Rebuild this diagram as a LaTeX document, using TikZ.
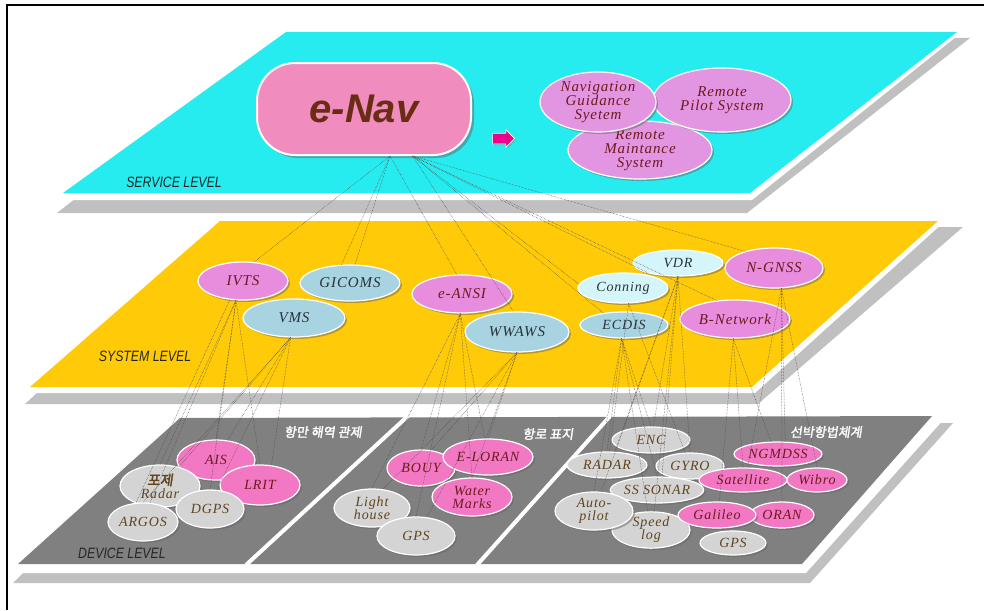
\documentclass[tikz,border=0pt]{standalone}
\usepackage{fontspec}
\setmainfont{Liberation Serif}
\newfontfamily\nodefont{Liberation Serif}[LetterSpace=6]
\newfontfamily\navfont{Liberation Sans}
\newfontfamily\levelfont{Liberation Sans}[FakeStretch=0.82]
\newfontfamily\krfont{Noto Sans CJK KR}[FakeBold=2,FakeSlant=0.15]
\usetikzlibrary{shapes.geometric,shapes.arrows,shadows}

\definecolor{cyanpanel}{RGB}{38,236,240}
\definecolor{goldpanel}{RGB}{255,202,8}
\definecolor{darkpanel}{RGB}{128,128,128}
\definecolor{slabgray}{RGB}{192,192,192}
\definecolor{navpink}{RGB}{240,140,190}
\definecolor{lilac}{RGB}{226,150,226}
\definecolor{orchidfill}{RGB}{232,140,222}
\definecolor{skyblue}{RGB}{168,212,226}
\definecolor{icecyan}{RGB}{212,246,250}
\definecolor{hotpink}{RGB}{242,120,196}
\definecolor{pebble}{RGB}{212,212,212}
\definecolor{wine}{RGB}{110,25,30}
\definecolor{umber}{RGB}{95,68,28}
\definecolor{slate}{RGB}{40,50,60}
\definecolor{cocoa}{RGB}{105,45,20}

\tikzset{
  bubble/.style={ellipse, draw=white, line width=1.2pt, inner sep=0pt, align=center,
    drop shadow={shadow xshift=2pt, shadow yshift=-2pt, fill=black!60, opacity=.5},
    font=\nodefont\itshape\fontsize{14}{13}\selectfont},
  toptier/.style={bubble, fill=lilac, text=wine, font=\nodefont\itshape\fontsize{15}{14}\selectfont},
  sysmag/.style={bubble, fill=orchidfill, text=wine, font=\nodefont\itshape\fontsize{15}{14}\selectfont},
  sysblue/.style={bubble, fill=skyblue, text=slate, font=\nodefont\itshape\fontsize{15}{14}\selectfont},
  sysice/.style={bubble, fill=icecyan, text=slate, font=\nodefont\itshape\fontsize{14}{13}\selectfont},
  devpink/.style={bubble, fill=hotpink, text=wine},
  devgray/.style={bubble, fill=pebble, text=umber},
  navbox/.style={rectangle, rounded corners=38pt, fill=navpink, draw=white, line width=2pt,
    minimum width=214pt, minimum height=92pt, inner sep=0pt, text=cocoa,
    drop shadow={shadow xshift=3pt, shadow yshift=-3pt, fill=black!60, opacity=.5},
    font=\navfont\bfseries\itshape\fontsize{40}{40}\selectfont},
  pointerarrow/.style={single arrow, fill=magenta, draw=white, line width=0.6pt,
    minimum height=22pt, inner xsep=0pt, inner ysep=5pt, single arrow head extend=3.5pt,
    drop shadow={shadow xshift=1.5pt, shadow yshift=-1.5pt, fill=black!50, opacity=.4}},
  link/.style={draw=black!70, densely dotted, line width=0.5pt},
  levellabel/.style={font=\levelfont\itshape\fontsize{15}{15}\selectfont, text=black!85, inner sep=0pt},
  zonelabel/.style={font=\krfont\fontsize{13}{13}\selectfont, text=white, inner sep=0pt},
}

\begin{document}
\begin{tikzpicture}[x=1pt,y=-1pt]
\useasboundingbox (0,0) rectangle (984,610);
\fill[white] (0,0) rectangle (984,610);

% frame
\draw[line width=1.5pt] (984,5) -- (7,5) -- (7,610);

% service level slab
\fill[slabgray] (280,38) -- (970,38) -- (747,213) -- (57,213) -- cycle;
\fill[white] (286,32) -- (962,32) -- (752,200) -- (60,200) -- cycle;
\fill[cyanpanel] (286,32) -- (957,32) -- (750,193) -- (63,193) -- cycle;

% system level slab
\fill[slabgray] (215,227) -- (963,227) -- (758,404) -- (25,404) -- cycle;
\fill[white] (220,221) -- (945,221) -- (755,393) -- (27,393) -- cycle;
\fill[goldpanel] (220,221) -- (938,221) -- (752,387) -- (30,387) -- cycle;

% device level slab, split in three zones
\fill[slabgray] (175,425) -- (953,423) -- (810,583) -- (13,583) -- cycle;
\fill[white] (182,418) -- (945,418) -- (806,573) -- (18,573) -- cycle;
\fill[darkpanel] (180,418) -- (932,416) -- (802,564) -- (18,564) -- cycle;
\draw[white, line width=4pt] (409,415) -- (246,565);
\draw[white, line width=4pt] (611,415) -- (477,565);

% level names
\node[levellabel] (servicelabel) at (174,182) {SERVICE LEVEL};
\node[levellabel] (systemlabel) at (145,356) {SYSTEM LEVEL};
\node[levellabel] (devicelabel) at (122,553) {DEVICE LEVEL};

% zone names
\node[zonelabel] (harbourzone) at (323,432) {항만 해역 관제};
\node[zonelabel] (aidszone) at (548,434) {항로 표지};
\node[zonelabel] (shipzone) at (826,432) {선박항법체계};

% service level
\node[navbox] (enav) at (364,109) {e-Nav};
\node[pointerarrow] (pointer) at (501,138.5) {};
\node[toptier, minimum width=144pt, minimum height=56pt] (rms) at (640,150) {Remote\\Maintance\\System};
\node[toptier, minimum width=138pt, minimum height=64pt] (rps) at (722,100) {Remote\\Pilot System};
\node[toptier, minimum width=116pt, minimum height=60pt] (ngs) at (598,102) {Navigation\\Guidance\\Syetem};

% system level
\node[sysmag, minimum width=90pt, minimum height=38pt] (ivts) at (243,281) {IVTS};
\node[sysblue, minimum width=100pt, minimum height=36pt] (gicoms) at (350,283) {GICOMS};
\node[sysblue, minimum width=102pt, minimum height=38pt] (vms) at (294,318) {VMS};
\node[sysmag, minimum width=100pt, minimum height=38pt] (eansi) at (462,294) {e-ANSI};
\node[sysblue, minimum width=104pt, minimum height=40pt] (wwaws) at (517,332) {WWAWS};
\node[sysice, minimum width=90pt, minimum height=26pt] (vdr) at (678,263) {VDR};
\node[sysice, minimum width=90pt, minimum height=30pt] (conning) at (623,288) {Conning};
\node[sysblue, minimum width=88pt, minimum height=26pt, font=\nodefont\itshape\fontsize{14}{13}\selectfont] (ecdis) at (624,325) {ECDIS};
\node[sysmag, minimum width=98pt, minimum height=40pt] (ngnss) at (774,268) {N-GNSS};
\node[sysmag, minimum width=110pt, minimum height=38pt] (bnet) at (735,319) {B-Network};

% device level: harbour and coastal control
\node[devpink, minimum width=78pt, minimum height=40pt] (ais) at (216,460) {AIS};
\node[devpink, minimum width=80pt, minimum height=40pt] (lrit) at (260,485) {LRIT};
\node[devgray, minimum width=80pt, minimum height=42pt] (radar1) at (160,486) {{\krfont 포제}\\Radar};
\node[devgray, minimum width=68pt, minimum height=38pt] (dgps) at (210,509) {DGPS};
\node[devgray, minimum width=70pt, minimum height=38pt] (argos) at (143,522) {ARGOS};

% device level: aids to navigation
\node[devpink, minimum width=68pt, minimum height=36pt] (bouy) at (421,468) {BOUY};
\node[devpink, minimum width=90pt, minimum height=36pt] (eloran) at (488,457) {E-LORAN};
\node[devpink, minimum width=80pt, minimum height=38pt] (water) at (472,497) {Water\\Marks};
\node[devgray, minimum width=76pt, minimum height=38pt] (lighthouse) at (372,508) {Light\\house};
\node[devgray, minimum width=78pt, minimum height=38pt] (gps1) at (416,536) {GPS};

% device level: shipborne equipment
\node[devgray, minimum width=78pt, minimum height=26pt] (enc) at (651,440) {ENC};
\node[devgray, minimum width=80pt, minimum height=26pt] (radar2) at (607,465) {RADAR};
\node[devgray, minimum width=68pt, minimum height=26pt] (gyro) at (690,466) {GYRO};
\node[devgray, minimum width=90pt, minimum height=26pt] (sonar) at (657,490) {SS SONAR};
\node[devgray, minimum width=78pt, minimum height=28pt] (speedlog) at (651,530) {Speed\\log};
\node[devgray, minimum width=78pt, minimum height=38pt] (autopilot) at (594,511) {Auto-\\pilot};

% device level: communication and positioning
\node[devpink, minimum width=88pt, minimum height=24pt] (ngmdss) at (778,454) {NGMDSS};
\node[devpink, minimum width=88pt, minimum height=24pt] (satellite) at (743,480) {Satellite};
\node[devpink, minimum width=60pt, minimum height=24pt] (wibro) at (817,480) {Wibro};
\node[devpink, minimum width=64pt, minimum height=26pt] (oran) at (782,515) {ORAN};
\node[devgray, minimum width=66pt, minimum height=24pt] (gps2) at (733,543) {GPS};
\node[devpink, minimum width=78pt, minimum height=26pt] (galileo) at (717,515) {Galileo};

% service -> system links
\foreach \a/\b in {enav.-61/ivts.60, enav.-61/gicoms.115, enav.-61/gicoms.75,
                   enav.-61/eansi.105, enav.-44/wwaws.100, enav.-44/conning.175,
                   enav.-44/ecdis.150, enav.-44/vdr.200, enav.-44/bnet.135,
                   enav.-44/ngnss.150}
  \draw[link] (\a) -- (\b);

% system -> device links
\foreach \a/\b in {ivts.-110/argos.70, ivts.-110/radar1.north, ivts.-110/ais.north,
                   ivts.-110/dgps.north, ivts.-110/lrit.north, ivts.-125/argos.110,
                   vms.-100/argos.north, vms.-100/radar1.45, vms.-100/ais.60,
                   vms.-100/dgps.70, vms.-100/lrit.60,
                   eansi.-95/lighthouse.north, eansi.-95/bouy.north, eansi.-95/gps1.north,
                   eansi.-95/water.north, eansi.-95/eloran.100,
                   wwaws.-90/lighthouse.60, wwaws.-90/bouy.60, wwaws.-90/water.90,
                   wwaws.-90/eloran.north, wwaws.-90/gps1.60,
                   ecdis.-100/radar2.north, ecdis.-100/autopilot.north, ecdis.-100/enc.north,
                   ecdis.-100/sonar.north, ecdis.-100/speedlog.100,
                   vdr.-90/radar2.60, vdr.-90/enc.80, vdr.-90/gyro.north, vdr.-90/sonar.70,
                   vdr.-90/autopilot.70, vdr.-90/speedlog.80,
                   conning.-70/radar2.80, conning.-70/gyro.110,
                   bnet.-95/ngmdss.120, bnet.-95/satellite.north, bnet.-95/galileo.80,
                   ngnss.-70/ngmdss.60, ngnss.-70/satellite.70, ngnss.-70/oran.north,
                   ngnss.-70/wibro.north}
  \draw[link] (\a) -- (\b);
\end{tikzpicture}
\end{document}
